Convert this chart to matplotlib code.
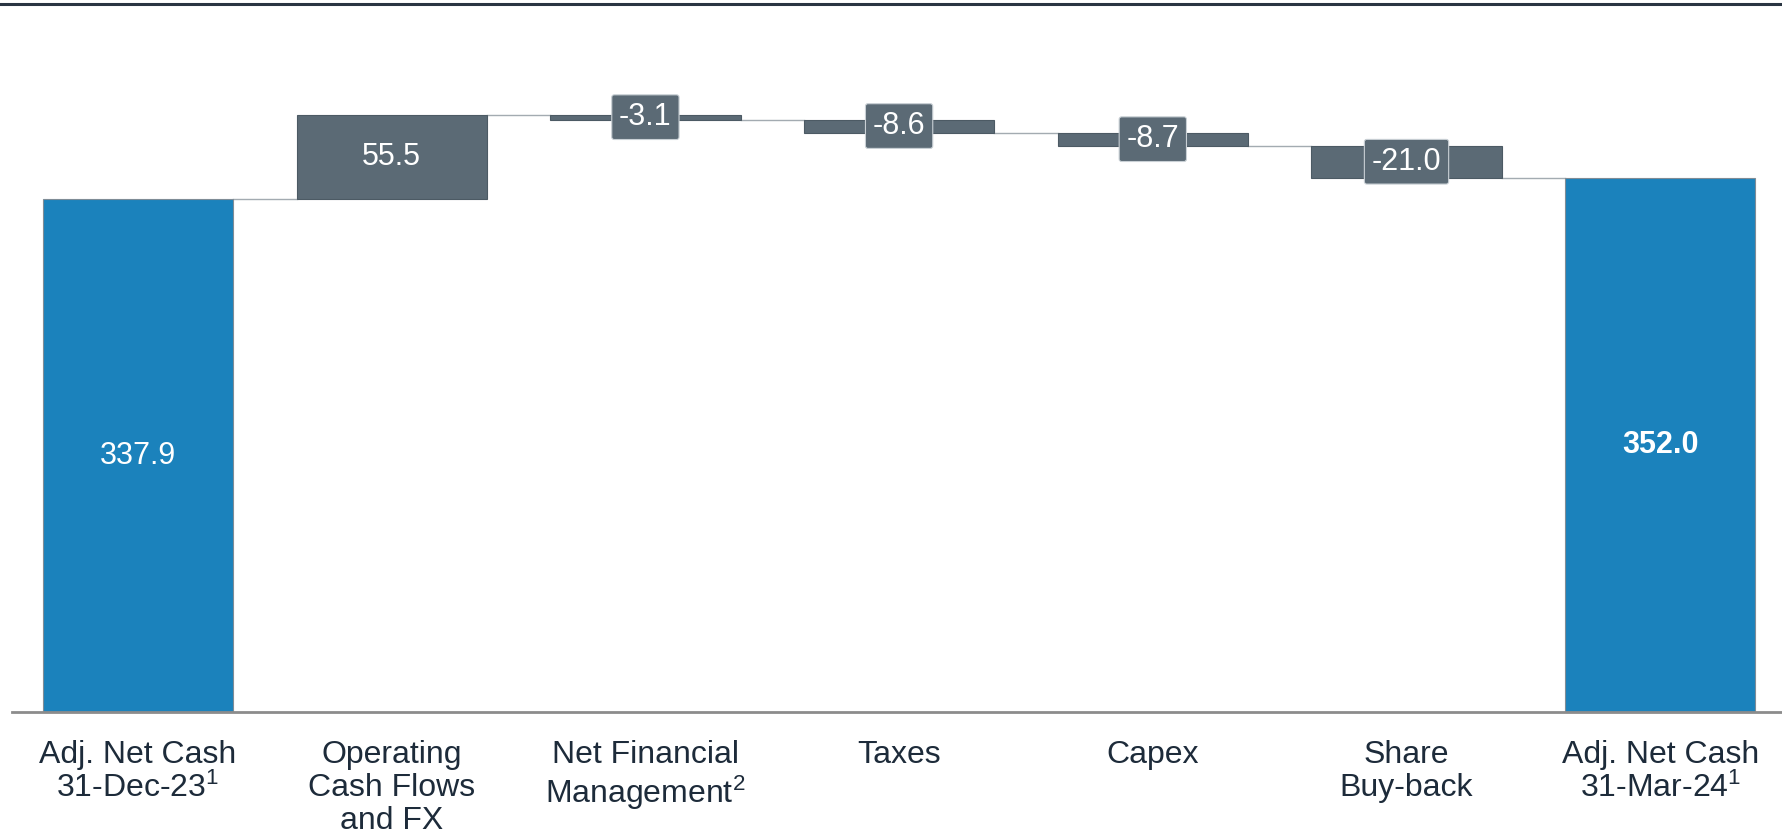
import matplotlib
matplotlib.use("Agg")
import matplotlib.pyplot as plt
from matplotlib.lines import Line2D

plt.rcParams["font.family"] = ["Liberation Sans", "DejaVu Sans"]
plt.rcParams["mathtext.fontset"] = "custom"
plt.rcParams["mathtext.rm"] = "Liberation Sans"
plt.rcParams["mathtext.it"] = "Liberation Sans"
plt.rcParams["mathtext.default"] = "regular"

# Cash bridge, figures in EUR millions
categories = [
    "Adj. Net Cash\n31-Dec-23$^{1}$",
    "Operating\nCash Flows\nand FX",
    "Net Financial\nManagement$^{2}$",
    "Taxes",
    "Capex",
    "Share\nBuy-back",
    "Adj. Net Cash\n31-Mar-24$^{1}$",
]
opening = 337.9
changes = [55.5, -3.1, -8.6, -8.7, -21.0]
closing = 352.0

BLUE = "#1b82bc"
SLATE = "#5b6a75"
TEXT = "#1d2b3a"

fig = plt.figure(figsize=(17.83, 8.39), dpi=100)
W, H = 1783, 839
ax = fig.add_axes([12 / W, 127 / H, 1 - 12 / W, (712 - 4) / H])

width = 0.75
n = len(categories)

# opening total
ax.bar(0, opening, width=width, color=BLUE, edgecolor="#7f8c96", linewidth=0.8, zorder=2)
ax.text(0, opening / 2, f"{opening:.1f}", ha="center", va="center",
        color="white", fontsize=22, zorder=4)

level = opening
for i, ch in enumerate(changes, start=1):
    # connector from previous bar to this one
    ax.plot([i - 1 + width / 2, i - width / 2], [level, level],
            color="#a3abb1", lw=1.0, zorder=1)
    bottom = level if ch >= 0 else level + ch
    ax.bar(i, abs(ch), bottom=bottom, width=width, color=SLATE,
           edgecolor="#4c5a64", linewidth=0.8, zorder=2)
    mid = bottom + abs(ch) / 2
    if ch >= 0:
        ax.text(i, mid, f"{ch:.1f}", ha="center", va="center",
                color="white", fontsize=22, zorder=4)
    else:
        ax.text(i, mid, f"{ch:.1f}", ha="center", va="center",
                color="white", fontsize=22, zorder=4,
                bbox=dict(boxstyle="round,pad=0.24,rounding_size=0.08",
                          facecolor=SLATE, edgecolor="#c9d0d5", linewidth=0.8))
    level += ch

ax.plot([n - 2 + width / 2, n - 1 - width / 2], [level, level],
        color="#a3abb1", lw=1.0, zorder=1)

# closing total
ax.bar(n - 1, closing, width=width, color=BLUE, edgecolor="#7f8c96", linewidth=0.8, zorder=2)
ax.text(n - 1, closing / 2, f"{closing:.1f}", ha="center", va="center",
        color="white", fontsize=22, fontweight="bold", zorder=4)

ax.set_xlim(-0.4967, 6.484)
ax.set_ylim(0, (712 - 4) / 1.518)

ax.set_xticks(range(n))
ax.set_xticklabels(categories, fontsize=23, color=TEXT, linespacing=1.14)
ax.tick_params(axis="x", length=0, pad=20)
ax.set_yticks([])

for side in ("top", "left", "right"):
    ax.spines[side].set_visible(False)
ax.spines["bottom"].set_color("#8c8c8c")
ax.spines["bottom"].set_linewidth(2)

# header rule across the page
fig.add_artist(Line2D([0, 1], [1 - 4 / H, 1 - 4 / H], transform=fig.transFigure,
                      color="#2a3542", lw=2.2))

fig.savefig("out.png", dpi=100, facecolor="white")
